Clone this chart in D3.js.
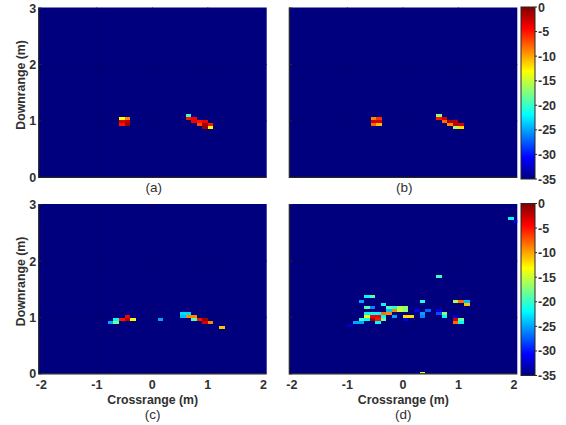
<!DOCTYPE html>
<html><head><meta charset="utf-8">
<script src="https://cdn.jsdelivr.net/npm/d3@7"></script>
<style>html,body{margin:0;padding:0;background:#fff}svg{display:block}text{font-family:"Liberation Sans",Arial,sans-serif;fill:#303030}</style>
</head><body><svg id="c" width="566" height="425"></svg>
<script>
const xTicks=[-2,-1,0,1,2];
const yTicks=[0,1,2,3];
const cTicks=[0,-5,-10,-15,-20,-25,-30,-35];
const captions=["(a)","(b)","(c)","(d)"];
const jetStops=["#00007f","#0000ff","#007fff","#00ffff","#7fff7f","#ffff00","#ff7f00","#ff0000","#7f0000"];
// each cell: [crossrange left, downrange bottom, dB]
const cellsA=[[-.6,1.012,-13],[-.5,1.012,-9],[-.6,.959,-3],[-.5,.959,-2],[-.6,.906,-5],[-.5,.906,-1],
[.6,1.066,-20],[.6,1.012,-5],[.7,1.012,-4],[.7,.959,-4],[.8,.959,-5],[.9,.959,-4],[.8,.906,-7],[.9,.906,-1],[1,.906,-5],[.9,.853,-1],[1,.853,-13]];
const cellsB=[[-.58,1.012,-9],[-.48,1.012,-6],[-.58,.959,-3],[-.48,.959,-3],[-.58,.906,-8],[-.48,.906,-11],
[.6,1.066,-17],[.6,1.012,-5],[.7,1.012,-3],[.7,.959,-8],[.8,.959,-2],[.9,.959,-2],[.8,.906,-9],[.9,.906,-2],[1,.906,-3],[.9,.853,-16],[1,.853,-12]];
const cellsC=[[-.5,.984,-4],[-.7,.931,-22],[-.6,.931,-5],[-.5,.931,-2],[-.4,.931,-14],[-.8,.878,-25],[-.7,.878,-18],
[.1,.931,-25],[.5,1.037,-23],[.6,1.037,-23],[.5,.984,-24],[.6,.984,-9],[.7,.984,-9],[.7,.931,-19],[.8,.931,-5],[.9,.931,-1],[.9,.878,-3],[1,.878,-9],[1.2,.789,-11]];
const cellsD=[[-.7,1.339,-22],[-.6,1.339,-19],[-.8,1.251,-25],[.3,1.251,-21],[.9,1.251,-16],[1,1.251,-8],[1.1,1.251,-24],
[-.4,1.197,-22],[1.1,1.197,-11],
[-.7,1.144,-19],[-.6,1.144,-26],[-.3,1.144,-19],[-.2,1.144,-21],[-.1,1.144,-16],[0,1.144,-17],
[-.3,1.091,-24],[-.2,1.091,-9],[-.1,1.091,-15],[0,1.091,-17],[.2,1.091,-31],[.4,1.091,-27],[.6,1.091,-32],
[-.7,1.037,-22],[-.6,1.037,-22],[-.5,1.037,-22],[-.4,1.037,-8],[-.3,1.037,-9],[.3,1.037,-25],[.6,1.037,-28],[.7,1.037,-17],
[-.7,.984,-13],[-.6,.984,-4],[-.5,.984,-4],[-.4,.984,-22],[-.2,.984,-25],[0,.984,-12],[.1,.984,-12],[.3,.984,-26],[.7,.984,-22],[.9,.984,-32],
[-.8,.931,-20],[-.7,.931,-22],[-.6,.931,-1],[-.5,.931,-5],[-.4,.931,-18],[0,.931,-32],[.9,.931,-3],[1,.931,-18],
[-.9,.878,-25],[-.8,.878,-25],[-.5,.878,-22],[.9,.878,-8],[1,.878,-22],[-1,.825,-33],
[1.9,2.72,-22],[2,2.668,-31],[.6,1.693,-20],[.3,-.02,-15]];
const cellWidth=0.1,cellHeight=0.0533;
const panels=[
 {cells:cellsA,x0:38.7,y0:7.5,cap:0,xl:false,yl:true},
 {cells:cellsB,x0:289.3,y0:7.5,cap:1,xl:false,yl:false},
 {cells:cellsC,x0:38.7,y0:204,cap:2,xl:true,yl:true},
 {cells:cellsD,x0:289.3,y0:204,cap:3,xl:true,yl:false}];
const W=228,H=169.8;
const svg=d3.select("#c");
const color=d3.scaleLinear().domain(d3.range(9).map(i=>-35+i*35/8)).range(jetStops).clamp(true);
const defs=svg.append("defs");
const grad=defs.append("linearGradient").attr("id","jet").attr("x1",0).attr("x2",0).attr("y1",1).attr("y2",0);
jetStops.forEach((c,i)=>grad.append("stop").attr("offset",i/8).attr("stop-color",c));
defs.append("clipPath").attr("id","plot").append("rect").attr("width",W).attr("height",H);
panels.forEach(p=>{
 const g=svg.append("g").attr("transform",`translate(${p.x0},${p.y0})`);
 const x=d3.scaleLinear().domain([-2.047,2.06]).range([0,W]);
 const y=d3.scaleLinear().domain([0,3]).range([H,H-169.2]);
 g.append("rect").attr("width",W).attr("height",H).attr("fill",color(-35));
 g.append("g").selectAll("line").data(xTicks.slice(1,-1)).join("line")
  .attr("x1",d=>x(d)).attr("x2",d=>x(d)).attr("y1",0).attr("y2",H).attr("stroke","#000070").attr("stroke-width",1);
 g.append("g").selectAll("line").data(yTicks.slice(1,-1)).join("line")
  .attr("x1",0).attr("x2",W).attr("y1",d=>y(d)).attr("y2",d=>y(d)).attr("stroke","#000070").attr("stroke-width",1);
 g.append("g").attr("clip-path","url(#plot)").selectAll("rect").data(p.cells).join("rect")
  .attr("x",d=>x(d[0])).attr("y",d=>y(d[1]+cellHeight)).attr("width",x(cellWidth)-x(0)).attr("height",y(0)-y(cellHeight))
  .attr("fill",d=>color(d[2])).attr("shape-rendering","crispEdges");
 g.append("path").attr("d",`M0,0V${H}H${W}`).attr("fill","none").attr("stroke","#262626").attr("stroke-width",1.2);
 g.append("g").selectAll("line").data(yTicks).join("line").attr("x1",0).attr("x2",3).attr("y1",d=>y(d)).attr("y2",d=>y(d)).attr("stroke","#262626");
 const ax=g.append("g").attr("font-size",12.5).attr("font-weight","bold");
 if(p.xl) ax.selectAll(".xt").data(xTicks).join("text").attr("x",d=>x(d)).attr("y",H+15).attr("text-anchor","middle").text(d=>d);
 if(p.yl) ax.selectAll(".yt").data(yTicks).join("text").attr("x",-2.5).attr("y",d=>y(d)+4.5).attr("text-anchor","end").text(d=>d);
 if(p.xl) ax.append("text").attr("x",W/2).attr("y",H+30).attr("text-anchor","middle").attr("font-size",12.3).text("Crossrange (m)");
 if(p.yl) ax.append("text").attr("transform",`translate(-13.7,${H/2-7.5}) rotate(-90)`).attr("text-anchor","middle").attr("font-size",12.3).text("Downrange (m)");
 g.append("text").attr("x",W/2+(p.xl?0:1)).attr("y",H+(p.xl?45:15)).attr("text-anchor","middle").attr("font-size",13.5).text(captions[p.cap]);
 if(p.cap%2==1){
  const cy=d3.scaleLinear().domain([-35,0]).range([172,0]);
  const cg=svg.append("g").attr("transform",`translate(521,${p.y0-0.5})`);
  cg.append("rect").attr("width",14).attr("height",172).attr("fill","url(#jet)").attr("stroke","#262626");
  cg.selectAll("line").data(cTicks).join("line").attr("x1",14).attr("x2",16).attr("y1",d=>cy(d)).attr("y2",d=>cy(d)).attr("stroke","#262626");
  cg.selectAll("text").data(cTicks).join("text").attr("x",17).attr("y",d=>cy(d)+4.5).attr("text-anchor","start").attr("font-size",12.5).attr("font-weight","bold").text(d=>d);
 }
});
</script></body></html>
